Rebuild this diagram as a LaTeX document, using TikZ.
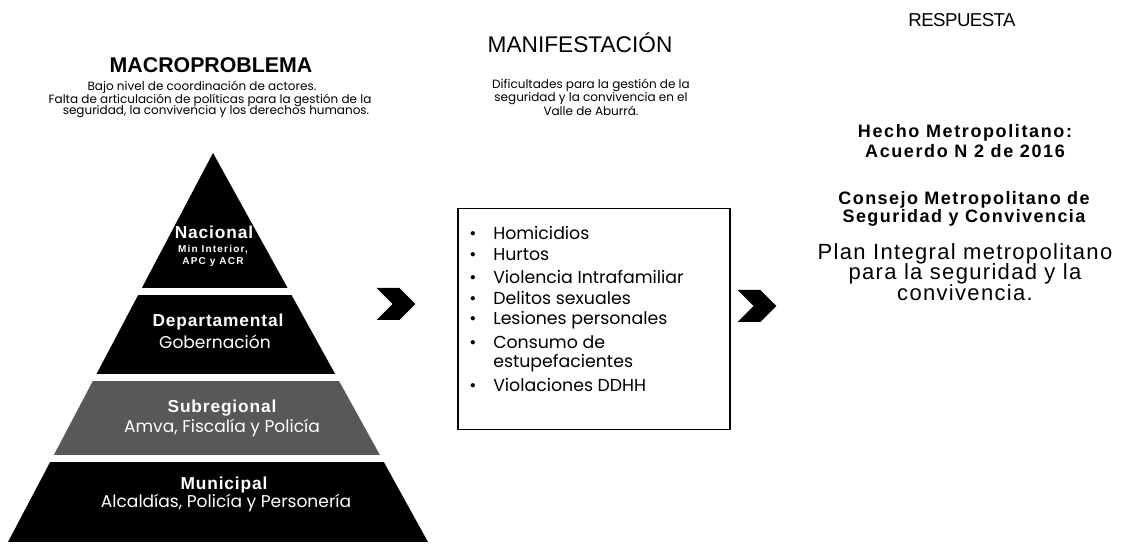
\documentclass[tikz,border=0pt]{standalone}
\usepackage{fontspec}
\usepackage{xcolor}
\usepackage{tikz}
\usetikzlibrary{shapes.symbols, positioning}
\newfontfamily\gothic{Poppins}
\newfontfamily\arialf{Liberation Sans}
\definecolor{bandgray}{RGB}{88, 88, 88}

\tikzset{
    heading/.style={font=\arialf\fontsize{17}{20}\selectfont, inner sep=0pt},
    subtxt/.style={font=\gothic\fontsize{9}{9.4}\selectfont, align=center, inner sep=0pt},
    lvlname/.style={font=\arialf\bfseries\fontsize{13}{15}\selectfont\addfontfeature{LetterSpace=5}, text=white, inner sep=0pt},
    lvlwho/.style={font=\gothic\fontsize{12.8}{14}\selectfont, text=white, inner sep=0pt},
    chevron/.style={signal, signal from=west, signal to=east, fill=black, draw=none,
        minimum width=29pt, minimum height=24pt, inner sep=0pt},
    listitem/.style={font=\gothic\fontsize{13}{15}\selectfont, anchor=west, inner sep=0pt},
    respbold/.style={font=\arialf\bfseries\fontsize{13.5}{15}\selectfont\addfontfeature{LetterSpace=9},
        align=center, inner sep=0pt},
    respplain/.style={font=\arialf\fontsize{16.5}{15.4}\selectfont\addfontfeature{LetterSpace=6},
        align=center, inner sep=0pt}
}

\begin{document}
\begin{tikzpicture}[x=0.75pt, y=-0.75pt]
    \useasboundingbox (0,0) rectangle (1130,548);

    % Titles
    \node[heading, font=\arialf\bfseries\fontsize{16}{19}\selectfont] (macro) at (211,65) {MACROPROBLEMA};
    \node[heading] (manif) at (580,43) {MANIFESTACIÓN};
    \node[heading, font=\arialf\fontsize{14}{16}\selectfont\addfontfeature{LetterSpace=-3}] (resp) at (962,20) {RESPUESTA};

    \node[subtxt] (macroA) at (202,87) {Bajo nivel de coordinación de actores.};
    \node[subtxt] (macroB) at (210,100) {Falta de articulación de políticas para la gestión de la};
    \node[subtxt] (macroC) at (216,112) {seguridad, la convivencia y los derechos humanos.};
    \node[subtxt, font=\gothic\fontsize{9}{10.1}\selectfont] (maniftxt) at (591,97) {Dificultades para la gestión de la\\
        seguridad y la convivencia en el\\Valle de Aburrá.};

    % Pyramid
    \begin{scope}
        \clip (213,153) -- (8,542) -- (428,542) -- cycle;
        \foreach \ya/\yb/\tone in {150/288/black, 295/374/black, 381/455/bandgray, 462/542/black}
            \fill[\tone] (0,\ya) rectangle (440,\yb);
    \end{scope}

    \node[lvlname] (nac) at (214,232) {Nacional};
    \node[lvlname, font=\arialf\bfseries\fontsize{7.5}{9}\selectfont\addfontfeature{LetterSpace=12}, align=center] (nacwho) at (213,256) {Min Interior,\\APC y ACR};
    \node[lvlname] (dep) at (218,322) {Departamental};
    \node[lvlwho] (depwho) at (215,342) {Gobernación};
    \node[lvlname] (sub) at (222,408) {Subregional};
    \node[lvlwho] (subwho) at (222,428) {Amva, Fiscalía y Policía};
    \node[lvlname] (mun) at (224,485) {Municipal};
    \node[lvlwho] (munwho) at (226,503) {Alcaldías, Policía y Personería};

    % Arrows
    \node[chevron] (chevA) at (396,304) {};
    \node[chevron] (chevB) at (757,306) {};

    % List box
    \node[draw=black, line width=1.2pt, minimum width=204pt, minimum height=166pt, inner sep=0pt] (crimes) at (594,319) {};
    \foreach \i/\y/\crime in {
        1/233/Homicidios,
        2/255/Hurtos,
        3/277/Violencia Intrafamiliar,
        4/298/Delitos sexuales,
        5/320/Lesiones personales,
        6/342/Consumo de,
        7/385/Violaciones DDHH
    } {
        \node[listitem] (item\i) at (469,\y) {\makebox[18pt][l]{\textbullet}\crime};
    }
    \node[listitem] (item6b) at (493,363) {estupefacientes};

    % Response
    \node[respbold] (hecho) at (965,141) {Hecho Metropolitano:\\Acuerdo N 2 de 2016};
    \node[respbold, font=\arialf\bfseries\fontsize{13.5}{13.5}\selectfont\addfontfeature{LetterSpace=8}] (consejo) at (964,209) {Consejo Metropolitano de\\Seguridad y Convivencia};
    \node[respplain] (plan) at (965,272) {Plan Integral metropolitano\\para la seguridad y la\\convivencia.};
\end{tikzpicture}
\end{document}
